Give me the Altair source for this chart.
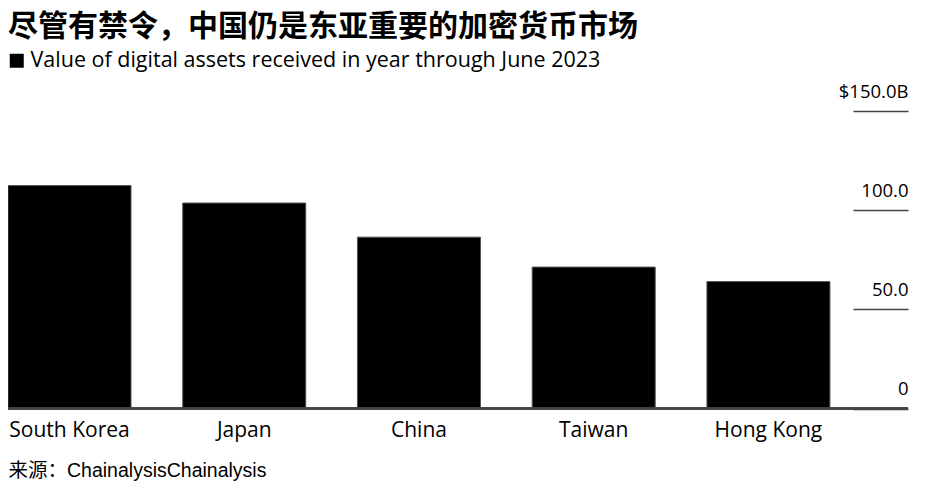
import altair as alt
import pandas as pd

countries = ["South Korea", "Japan", "China", "Taiwan", "Hong Kong"]
values = [112.4, 103.6, 86.4, 71.3, 64.0]
series_name = "Value of digital assets received in year through June 2023"
y_ticks = [0, 50, 100, 150]

title_text = "尽管有禁令，中国仍是东亚重要的加密货币市场"
source_text = "来源：ChainalysisChainalysis"

df = pd.DataFrame({"country": countries, "value": values, "series": series_name})

LABEL_FONT = "Open Sans"

bars = alt.Chart(df).mark_bar(stroke="#555555", strokeWidth=1).encode(
    x=alt.X(
        "country:N",
        sort=countries,
        scale=alt.Scale(paddingInner=0.296, paddingOuter=0.066, align=0),
        axis=alt.Axis(
            title=source_text,
            titleFont="Liberation Sans, Noto Sans CJK SC",
            titleFontSize=19.5,
            titleFontWeight="normal",
            titleColor="#000000",
            titleAnchor="start",
            titleAlign="left",
            titlePadding=21,
            labelAngle=0,
            labelFont=LABEL_FONT,
            labelFontSize=21,
            labelColor="#000000",
            labelPadding=11,
            ticks=False,
            tickSize=0,
            domain=False,
            grid=False,
        ),
    ),
    y=alt.Y(
        "value:Q",
        scale=alt.Scale(domain=[0, 150], nice=False),
        axis=alt.Axis(
            orient="right",
            title=None,
            values=y_ticks,
            domain=False,
            grid=False,
            ticks=True,
            tickSize=55,
            tickColor="#444444",
            tickWidth=1.5,
            labelAlign="right",
            labelBaseline="alphabetic",
            labelPadding=0,
            labelOffset=-14,
            labelFont=LABEL_FONT,
            labelFontSize=18.5,
            labelColor="#000000",
            labelExpr="datum.value == 150 ? '$150.0B' : (datum.value == 0 ? '0' : format(datum.value, '.1f'))",
        ),
    ),
    color=alt.Color(
        "series:N",
        scale=alt.Scale(range=["#000000"]),
        legend=alt.Legend(
            title=None,
            orient="none",
            legendX=-2,
            legendY=-61,
            symbolType="square",
            symbolSize=196,
            symbolStrokeWidth=0,
            symbolOpacity=1,
            labelFont=LABEL_FONT,
            labelFontSize=21.5,
            labelColor="#000000",
            labelOffset=3,
            padding=0,
            labelLimit=800,
        ),
    ),
)

baseline = alt.Chart(df).mark_rule(color="#444444", strokeWidth=2).encode(
    y=alt.datum(0),
    x=alt.value(0),
    x2=alt.value(900),
)

chart = alt.layer(bars, baseline).properties(
    width=845,
    height=297.5,
    title=alt.TitleParams(
        text=title_text,
        font="Noto Sans CJK SC",
        fontSize=30,
        fontWeight="bold",
        color="#000000",
        anchor="start",
        frame="group",
        offset=0,
        dy=-8,
    ),
    autosize=alt.AutoSizeParams(type="none"),
    padding={"left": 0, "top": 103, "right": 60, "bottom": 78},
).configure_view(stroke=None)

chart.save("out.html", embed_options={"renderer": "svg", "actions": False})
